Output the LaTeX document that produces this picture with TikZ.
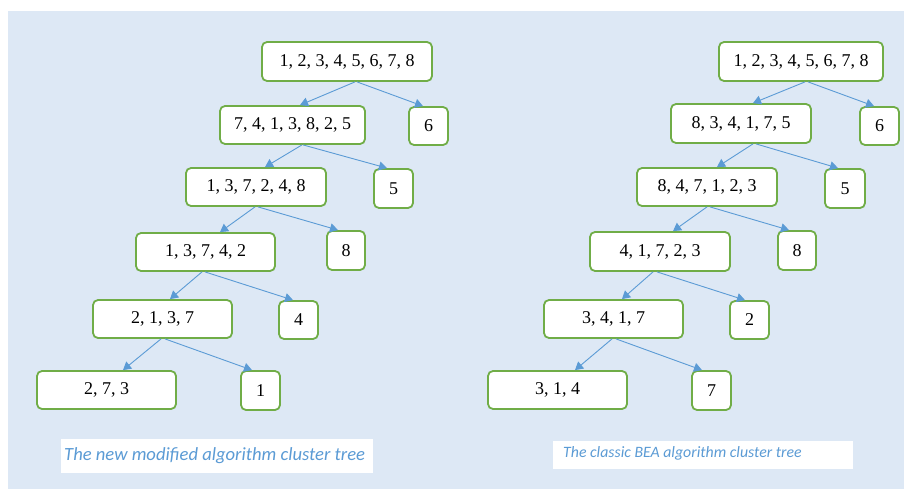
\documentclass[tikz,border=0pt]{standalone}
\usepackage{fontspec}
\setmainfont{Liberation Serif}
\newfontfamily\capfont{Carlito}
\usetikzlibrary{arrows.meta}
\definecolor{bgblue}{RGB}{221,232,245}
\definecolor{boxgreen}{RGB}{112,173,71}
\definecolor{arrblue}{RGB}{91,155,213}
\tikzset{
  cbox/.style={draw=boxgreen, line width=1.8pt, fill=white, rounded corners=5pt,
    inner sep=0pt, font=\fontsize{18}{20}\selectfont, text=black},
  arr/.style={draw=arrblue, line width=0.9pt, -{Triangle[length=8pt,width=9pt]}},
  capbox/.style={fill=white, inner sep=0pt},
}
\begin{document}
\begin{tikzpicture}[x=1pt,y=-1pt]
\useasboundingbox (0,0) rectangle (904,489);
\fill[white] (0,0) rectangle (904,489);
\fill[bgblue] (8,11) rectangle (904,489);

% Left tree
\node[cbox, minimum width=170pt, minimum height=39pt] (a1) at (347,61.5) {1, 2, 3, 4, 5, 6, 7, 8};
\node[cbox, minimum width=145pt, minimum height=38pt] (a2) at (292.5,125) {7, 4, 1, 3, 8, 2, 5};
\node[cbox, minimum width=39pt, minimum height=38pt] (a6) at (428.5,126) {6};
\node[cbox, minimum width=140pt, minimum height=38pt] (a3) at (256,187) {1, 3, 7, 2, 4, 8};
\node[cbox, minimum width=39pt, minimum height=39pt] (a5) at (393.5,188.5) {5};
\node[cbox, minimum width=139pt, minimum height=38pt] (a4) at (205.5,252) {1, 3, 7, 4, 2};
\node[cbox, minimum width=38pt, minimum height=39pt] (a8) at (346,250.5) {8};
\node[cbox, minimum width=139pt, minimum height=38pt] (a7) at (162.5,319) {2, 1, 3, 7};
\node[cbox, minimum width=39pt, minimum height=38pt] (a4b) at (298.5,320) {4};
\node[cbox, minimum width=139pt, minimum height=38pt] (a9) at (106.5,390) {2, 7, 3};
\node[cbox, minimum width=39pt, minimum height=39pt] (a1b) at (260.5,390.5) {1};

\draw[arr] ([xshift=8pt]a1.south) -- ([xshift=7.5pt]a2.north);
\draw[arr] ([xshift=10pt]a1.south) -- ([xshift=-5.5pt]a6.north);
\draw[arr] ([xshift=9.5pt]a2.south) -- ([xshift=9pt]a3.north);
\draw[arr] ([xshift=10.5pt]a2.south) -- ([xshift=-6.5pt]a5.north);
\draw[arr] ([xshift=-1pt]a3.south) -- ([xshift=14.5pt]a4.north);
\draw[arr] ([xshift=2pt]a3.south) -- ([xshift=-8pt]a8.north);
\draw[arr] ([xshift=-3.5pt]a4.south) -- ([xshift=7.5pt]a7.north);
\draw[arr] ([xshift=-0.5pt]a4.south) -- ([xshift=-5.5pt]a4b.north);
\draw[arr] ([xshift=-1.5pt]a7.south) -- ([xshift=16.5pt]a9.north);
\draw[arr] ([xshift=2.5pt]a7.south) -- ([xshift=-8.5pt]a1b.north);

% Right tree
\node[cbox, minimum width=164pt, minimum height=39pt] (b1) at (801,61.5) {1, 2, 3, 4, 5, 6, 7, 8};
\node[cbox, minimum width=140pt, minimum height=39pt] (b2) at (741,123.5) {8, 3, 4, 1, 7, 5};
\node[cbox, minimum width=39pt, minimum height=38pt] (b6) at (879.5,126) {6};
\node[cbox, minimum width=140pt, minimum height=38pt] (b3) at (707,187) {8, 4, 7, 1, 2, 3};
\node[cbox, minimum width=40pt, minimum height=39pt] (b5) at (845,188.5) {5};
\node[cbox, minimum width=140pt, minimum height=39pt] (b4) at (660,251.5) {4, 1, 7, 2, 3};
\node[cbox, minimum width=38pt, minimum height=39pt] (b8) at (797,250.5) {8};
\node[cbox, minimum width=139pt, minimum height=38pt] (b7) at (613.5,319) {3, 4, 1, 7};
\node[cbox, minimum width=39pt, minimum height=38pt] (b2b) at (749.5,320) {2};
\node[cbox, minimum width=139pt, minimum height=38pt] (b9) at (557.5,390) {3, 1, 4};
\node[cbox, minimum width=39pt, minimum height=39pt] (b7b) at (711.5,390.5) {7};

\draw[arr] ([xshift=4pt]b1.south) -- ([xshift=12pt]b2.north);
\draw[arr] ([xshift=7pt]b1.south) -- ([xshift=-5.5pt]b6.north);
\draw[arr] ([xshift=12pt]b2.south) -- ([xshift=10pt]b3.north);
\draw[arr] ([xshift=15pt]b2.south) -- ([xshift=-7pt]b5.north);
\draw[arr] ([xshift=0pt]b3.south) -- ([xshift=13pt]b4.north);
\draw[arr] ([xshift=3pt]b3.south) -- ([xshift=-8pt]b8.north);
\draw[arr] ([xshift=-7pt]b4.south) -- ([xshift=8.5pt]b7.north);
\draw[arr] ([xshift=-3pt]b4.south) -- ([xshift=-4.5pt]b2b.north);
\draw[arr] ([xshift=-1.5pt]b7.south) -- ([xshift=17.5pt]b9.north);
\draw[arr] ([xshift=2.5pt]b7.south) -- ([xshift=-9.5pt]b7b.north);

% Captions
\node[capbox, minimum width=312pt, minimum height=34pt] (capL) at (217,456) {};
\node[anchor=west, inner sep=0pt, text=arrblue, font=\capfont\itshape\fontsize{18.6}{20}\selectfont] (capLt) at (64,456) {The new modified algorithm cluster tree};
\node[capbox, minimum width=300pt, minimum height=28pt] (capR) at (703,455) {};
\node[anchor=west, inner sep=0pt, text=arrblue, font=\capfont\itshape\fontsize{15.8}{18}\selectfont] (capRt) at (563,453) {The classic BEA algorithm cluster tree};
\end{tikzpicture}
\end{document}
